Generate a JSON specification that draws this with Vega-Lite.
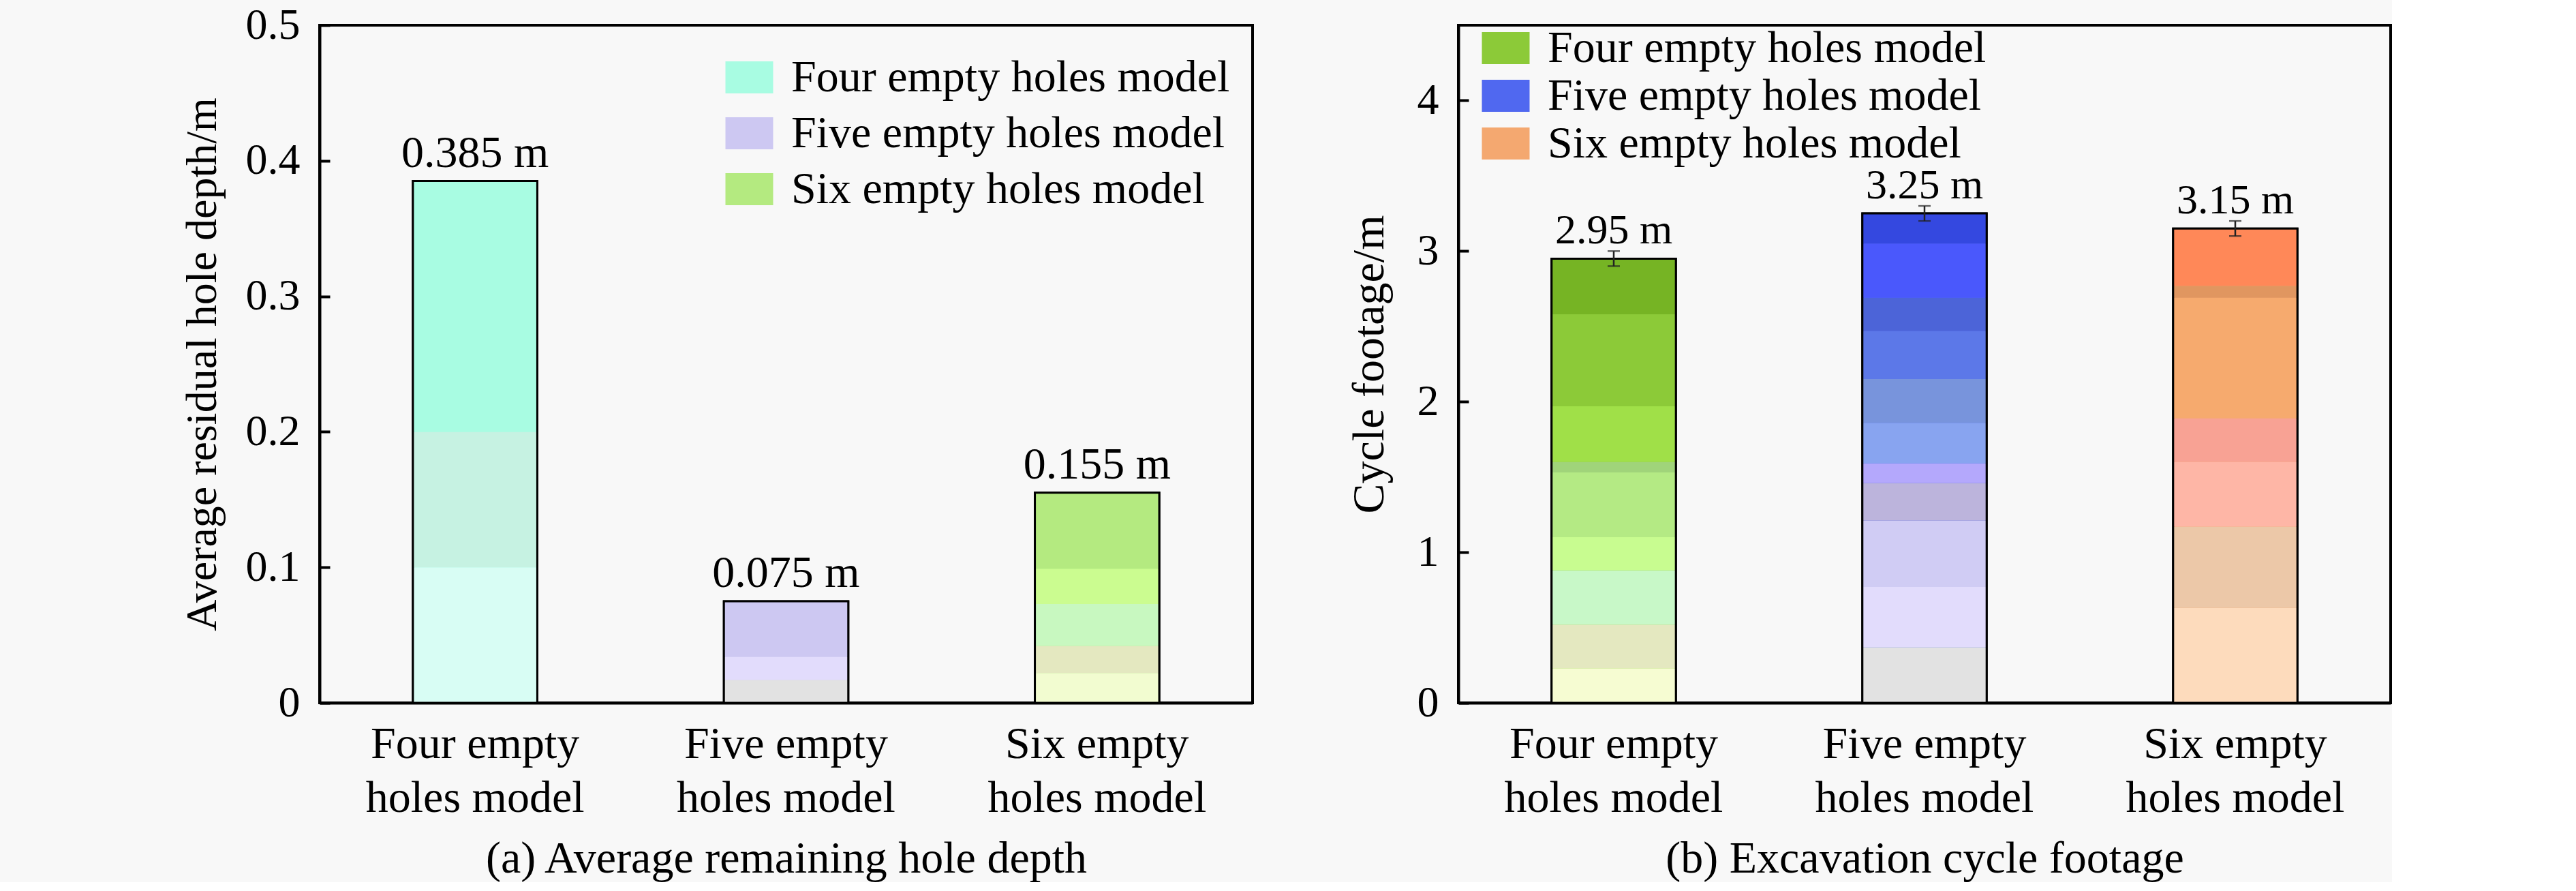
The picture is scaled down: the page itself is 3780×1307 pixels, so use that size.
{
  "$schema": "https://vega.github.io/schema/vega-lite/v6.json",
  "background": "#f8f8f8",
  "padding": {"left": 263, "top": 3, "right": 0, "bottom": 0},
  "bounds": "flush",
  "spacing": 302,
  "config": {
    "font": "Liberation Serif",
    "view": {"stroke": "black", "strokeWidth": 4},
    "axis": {
      "domainColor": "black", "domainWidth": 4,
      "tickColor": "black", "tickWidth": 4, "tickSize": -15,
      "labelColor": "black", "titleColor": "black",
      "labelFont": "Liberation Serif", "titleFont": "Liberation Serif",
      "titleFontWeight": "normal", "grid": false, "labelLimit": 2000
    },
    "legend": {
      "labelFont": "Liberation Serif", "labelColor": "black", "labelLimit": 2000,
      "symbolType": "M-1,-0.67H1V0.67H-1Z", "symbolSize": 4900,
      "symbolStrokeColor": "black", "symbolStrokeWidth": 3, "symbolOpacity": 1
    }
  },
  "datasets": {
    "bars_a": [
      {"model": "Four empty holes model", "value": 0.385, "label": "0.385 m"},
      {"model": "Five empty holes model", "value": 0.075, "label": "0.075 m"},
      {"model": "Six empty holes model", "value": 0.155, "label": "0.155 m"}
    ],
    "bars_b": [
      {"model": "Four empty holes model", "value": 2.95, "lo": 2.90, "hi": 3.00, "label": "2.95 m"},
      {"model": "Five empty holes model", "value": 3.25, "lo": 3.20, "hi": 3.30, "label": "3.25 m"},
      {"model": "Six empty holes model", "value": 3.15, "lo": 3.10, "hi": 3.20, "label": "3.15 m"}
    ],
    "seg_a": [
      {"model": "Four empty holes model", "lo": 0, "hi": 0.1, "shade": "a1"},
      {"model": "Four empty holes model", "lo": 0.1, "hi": 0.2, "shade": "a2"},
      {"model": "Four empty holes model", "lo": 0.2, "hi": 0.385, "shade": "a3"},
      {"model": "Five empty holes model", "lo": 0, "hi": 0.017, "shade": "a4"},
      {"model": "Five empty holes model", "lo": 0.017, "hi": 0.034, "shade": "a5"},
      {"model": "Five empty holes model", "lo": 0.034, "hi": 0.075, "shade": "a6"},
      {"model": "Six empty holes model", "lo": 0, "hi": 0.022, "shade": "a7"},
      {"model": "Six empty holes model", "lo": 0.022, "hi": 0.042, "shade": "a8"},
      {"model": "Six empty holes model", "lo": 0.042, "hi": 0.073, "shade": "a9"},
      {"model": "Six empty holes model", "lo": 0.073, "hi": 0.099, "shade": "a10"},
      {"model": "Six empty holes model", "lo": 0.099, "hi": 0.155, "shade": "a11"}
    ],
    "seg_b": [
      {"model": "Four empty holes model", "lo": 0, "hi": 0.23, "shade": "b1"},
      {"model": "Four empty holes model", "lo": 0.23, "hi": 0.52, "shade": "b2"},
      {"model": "Four empty holes model", "lo": 0.52, "hi": 0.88, "shade": "b3"},
      {"model": "Four empty holes model", "lo": 0.88, "hi": 1.10, "shade": "b4"},
      {"model": "Four empty holes model", "lo": 1.10, "hi": 1.53, "shade": "b5"},
      {"model": "Four empty holes model", "lo": 1.53, "hi": 1.60, "shade": "b6"},
      {"model": "Four empty holes model", "lo": 1.60, "hi": 1.97, "shade": "b7"},
      {"model": "Four empty holes model", "lo": 1.97, "hi": 2.58, "shade": "b8"},
      {"model": "Four empty holes model", "lo": 2.58, "hi": 2.95, "shade": "b9"},
      {"model": "Five empty holes model", "lo": 0, "hi": 0.37, "shade": "b10"},
      {"model": "Five empty holes model", "lo": 0.37, "hi": 0.77, "shade": "b11"},
      {"model": "Five empty holes model", "lo": 0.77, "hi": 1.21, "shade": "b12"},
      {"model": "Five empty holes model", "lo": 1.21, "hi": 1.46, "shade": "b13"},
      {"model": "Five empty holes model", "lo": 1.46, "hi": 1.59, "shade": "b14"},
      {"model": "Five empty holes model", "lo": 1.59, "hi": 1.86, "shade": "b15"},
      {"model": "Five empty holes model", "lo": 1.86, "hi": 2.15, "shade": "b16"},
      {"model": "Five empty holes model", "lo": 2.15, "hi": 2.47, "shade": "b17"},
      {"model": "Five empty holes model", "lo": 2.47, "hi": 2.69, "shade": "b18"},
      {"model": "Five empty holes model", "lo": 2.69, "hi": 3.05, "shade": "b19"},
      {"model": "Five empty holes model", "lo": 3.05, "hi": 3.25, "shade": "b20"},
      {"model": "Six empty holes model", "lo": 0, "hi": 0.63, "shade": "b21"},
      {"model": "Six empty holes model", "lo": 0.63, "hi": 1.17, "shade": "b22"},
      {"model": "Six empty holes model", "lo": 1.17, "hi": 1.60, "shade": "b23"},
      {"model": "Six empty holes model", "lo": 1.60, "hi": 1.89, "shade": "b24"},
      {"model": "Six empty holes model", "lo": 1.89, "hi": 2.69, "shade": "b25"},
      {"model": "Six empty holes model", "lo": 2.69, "hi": 2.77, "shade": "b26"},
      {"model": "Six empty holes model", "lo": 2.77, "hi": 3.15, "shade": "b27"}
    ]
  },
  "hconcat": [
    {
      "width": 1369,
      "height": 994,
      "encoding": {
        "x": {
          "field": "model", "type": "nominal",
          "sort": ["Four empty holes model", "Five empty holes model", "Six empty holes model"],
          "scale": {"paddingInner": 0.6, "paddingOuter": 0.3},
          "axis": {
            "labelExpr": "[replace(datum.label, ' holes model', ''), 'holes model']",
            "labelAngle": 0, "labelFontSize": 66, "labelLineHeight": 79,
            "labelPadding": 44, "tickSize": -16, "labelLimit": 2000,
            "title": "(a) Average remaining hole depth", "titleFontSize": 66, "titlePadding": 24
          }
        }
      },
      "layer": [
        {
          "data": {"name": "bars_a"},
          "mark": {"type": "bar", "stroke": "black", "strokeWidth": 3},
          "encoding": {
            "y": {
              "field": "value", "type": "quantitative",
              "title": "Average residual hole depth/m",
              "scale": {"domain": [0, 0.5], "nice": false},
              "axis": {"values": [0, 0.1, 0.2, 0.3, 0.4, 0.5], "format": "~g", "labelFontSize": 64, "labelPadding": 44, "titleFontSize": 64, "titlePadding": 31}
            },
            "color": {
              "field": "model", "type": "nominal",
              "scale": {"domain": ["Four empty holes model", "Five empty holes model", "Six empty holes model"], "range": ["#a8fce2", "#cdc8f2", "#b4ea80"]},
              "legend": {
                "orient": "none", "legendX": 594, "legendY": 40, "title": null, "labelFontSize": 66, "labelOffset": 25, "rowPadding": 12,
                "encode": {"symbols": {"update": {"fill": {"signal": "datum.value === 'Four empty holes model' ? {gradient: 'linear', x1: 0, y1: 0, x2: 0, y2: 1, stops: [{offset: 0, color: '#a8fce2'}, {offset: 0.7, color: '#a8fce2'}, {offset: 0.7, color: '#c6f2e2'}, {offset: 0.85, color: '#c6f2e2'}, {offset: 0.85, color: '#dcfef6'}, {offset: 1, color: '#dcfef6'}]} : datum.value === 'Five empty holes model' ? {gradient: 'linear', x1: 0, y1: 0, x2: 0, y2: 1, stops: [{offset: 0, color: '#ccc8f4'}, {offset: 0.5, color: '#ccc8f4'}, {offset: 0.5, color: '#e0dcfc'}, {offset: 0.67, color: '#e0dcfc'}, {offset: 0.67, color: '#e2e2e2'}, {offset: 1, color: '#e2e2e2'}]} : {gradient: 'linear', x1: 0, y1: 0, x2: 0, y2: 1, stops: [{offset: 0, color: '#b0e878'}, {offset: 0.38, color: '#b0e878'}, {offset: 0.38, color: '#c8f8c0'}, {offset: 0.77, color: '#c8f8c0'}, {offset: 0.77, color: '#e6e8c0'}, {offset: 1, color: '#e6e8c0'}]}"}}}}
              }
            }
          }
        },
        {
          "data": {"name": "seg_a"},
          "mark": {"type": "bar"},
          "encoding": {
            "y": {"field": "lo", "type": "quantitative", "title": "Average residual hole depth/m", "scale": {"domain": [0, 0.5], "nice": false}},
            "y2": {"field": "hi"},
            "color": {
              "field": "shade", "type": "nominal", "legend": null,
              "scale": {
                "domain": ["a1", "a2", "a3", "a4", "a5", "a6", "a7", "a8", "a9", "a10", "a11"],
                "range": ["#d8fdf4", "#c6f2e2", "#a8fce2", "#e2e2e2", "#e2dcfc", "#cdc8f2", "#f2fcd0", "#e4e8c0", "#c8f8c0", "#cbfc90", "#b4ea80"]
              }
            }
          }
        },
        {
          "data": {"name": "bars_a"},
          "mark": {"type": "bar", "filled": false, "color": "black", "strokeWidth": 3},
          "encoding": {
            "y": {"field": "value", "type": "quantitative", "title": "Average residual hole depth/m", "scale": {"domain": [0, 0.5], "nice": false}}
          }
        },
        {
          "data": {"name": "bars_a"},
          "mark": {"type": "text", "baseline": "alphabetic", "dy": -21, "fontSize": 66, "color": "black"},
          "encoding": {
            "y": {"field": "value", "type": "quantitative", "title": "Average residual hole depth/m", "scale": {"domain": [0, 0.5], "nice": false}},
            "text": {"field": "label"}
          }
        }
      ],
      "resolve": {"scale": {"color": "independent"}}
    },
    {
      "width": 1368,
      "height": 994,
      "encoding": {
        "x": {
          "field": "model", "type": "nominal",
          "sort": ["Four empty holes model", "Five empty holes model", "Six empty holes model"],
          "scale": {"paddingInner": 0.6, "paddingOuter": 0.3},
          "axis": {
            "labelExpr": "[replace(datum.label, ' holes model', ''), 'holes model']",
            "labelAngle": 0, "labelFontSize": 66, "labelLineHeight": 79,
            "labelPadding": 44, "tickSize": -16, "labelLimit": 2000,
            "title": "(b) Excavation cycle footage", "titleFontSize": 66, "titlePadding": 24
          }
        }
      },
      "layer": [
        {
          "data": {"name": "bars_b"},
          "mark": {"type": "bar", "stroke": "black", "strokeWidth": 3},
          "encoding": {
            "y": {
              "field": "value", "type": "quantitative",
              "title": "Cycle footage/m",
              "scale": {"domain": [0, 4.5], "nice": false},
              "axis": {"values": [0, 1, 2, 3, 4], "format": "~g", "labelFontSize": 64, "labelPadding": 44, "titleFontSize": 66, "titlePadding": 36}
            },
            "color": {
              "field": "model", "type": "nominal",
              "scale": {"domain": ["Four empty holes model", "Five empty holes model", "Six empty holes model"], "range": ["#8cca38", "#5068f0", "#f4a870"]},
              "legend": {
                "orient": "none", "legendX": 33, "legendY": -3, "title": null, "labelFontSize": 66, "labelOffset": 25, "rowPadding": -1,
                "encode": {"symbols": {"update": {"fill": {"signal": "datum.value === 'Four empty holes model' ? {gradient: 'linear', x1: 0, y1: 0, x2: 0, y2: 1, stops: [{offset: 0, color: '#84c834'}, {offset: 0.37, color: '#84c834'}, {offset: 0.37, color: '#a4d874'}, {offset: 0.54, color: '#a4d874'}, {offset: 0.54, color: '#c8f890'}, {offset: 0.71, color: '#c8f890'}, {offset: 0.71, color: '#e8ecc8'}, {offset: 1, color: '#e8ecc8'}]} : datum.value === 'Five empty holes model' ? {gradient: 'linear', x1: 0, y1: 0, x2: 0, y2: 1, stops: [{offset: 0, color: '#4454f0'}, {offset: 0.31, color: '#4454f0'}, {offset: 0.31, color: '#7088e4'}, {offset: 0.48, color: '#7088e4'}, {offset: 0.48, color: '#c0bcec'}, {offset: 0.69, color: '#c0bcec'}, {offset: 0.69, color: '#e2defc'}, {offset: 1, color: '#e2defc'}]} : {gradient: 'linear', x1: 0, y1: 0, x2: 0, y2: 1, stops: [{offset: 0, color: '#f4a870'}, {offset: 0.49, color: '#f4a870'}, {offset: 0.49, color: '#ecc8a8'}, {offset: 0.8, color: '#ecc8a8'}, {offset: 0.8, color: '#fcd8d8'}, {offset: 1, color: '#fcd8d8'}]}"}}}}
              }
            }
          }
        },
        {
          "data": {"name": "seg_b"},
          "mark": {"type": "bar"},
          "encoding": {
            "y": {"field": "lo", "type": "quantitative", "title": "Cycle footage/m", "scale": {"domain": [0, 4.5], "nice": false}},
            "y2": {"field": "hi"},
            "color": {
              "field": "shade", "type": "nominal", "legend": null,
              "scale": {
                "domain": ["b1", "b2", "b3", "b4", "b5", "b6", "b7", "b8", "b9", "b10", "b11", "b12", "b13", "b14", "b15", "b16", "b17", "b18", "b19", "b20", "b21", "b22", "b23", "b24", "b25", "b26", "b27"],
                "range": ["#f6fcd2", "#e4e8c0", "#c8f8c8", "#c8fc90", "#b4ea84", "#a0d47a", "#a0e048", "#8cca38", "#76b424", "#e2e2e2", "#e2dcfc", "#d0ccf4", "#bcb4dc", "#b4a8fc", "#88a4f0", "#7894dc", "#5c78e8", "#4c64d8", "#4a58fc", "#3448e0", "#fddbbc", "#ecc8a8", "#feb6a6", "#f8a294", "#f6aa6e", "#e09660", "#ff8858"]
              }
            }
          }
        },
        {
          "data": {"name": "bars_b"},
          "mark": {"type": "bar", "filled": false, "color": "black", "strokeWidth": 3},
          "encoding": {
            "y": {"field": "value", "type": "quantitative", "title": "Cycle footage/m", "scale": {"domain": [0, 4.5], "nice": false}}
          }
        },
        {
          "data": {"name": "bars_b"},
          "mark": {"type": "rule", "color": "#222222", "strokeWidth": 2.5},
          "encoding": {
            "y": {"field": "lo", "type": "quantitative", "title": "Cycle footage/m", "scale": {"domain": [0, 4.5], "nice": false}},
            "y2": {"field": "hi"}
          }
        },
        {
          "data": {"name": "bars_b"},
          "mark": {"type": "tick", "color": "#222222", "size": 18, "thickness": 2.5},
          "encoding": {
            "y": {"field": "lo", "type": "quantitative", "title": "Cycle footage/m", "scale": {"domain": [0, 4.5], "nice": false}}
          }
        },
        {
          "data": {"name": "bars_b"},
          "mark": {"type": "tick", "color": "#222222", "size": 18, "thickness": 2.5},
          "encoding": {
            "y": {"field": "hi", "type": "quantitative", "title": "Cycle footage/m", "scale": {"domain": [0, 4.5], "nice": false}}
          }
        },
        {
          "data": {"name": "bars_b"},
          "mark": {"type": "text", "baseline": "alphabetic", "dy": -11, "fontSize": 62, "color": "black"},
          "encoding": {
            "y": {"field": "hi", "type": "quantitative", "title": "Cycle footage/m", "scale": {"domain": [0, 4.5], "nice": false}},
            "text": {"field": "label"}
          }
        }
      ],
      "resolve": {"scale": {"color": "independent"}}
    }
  ]
}
